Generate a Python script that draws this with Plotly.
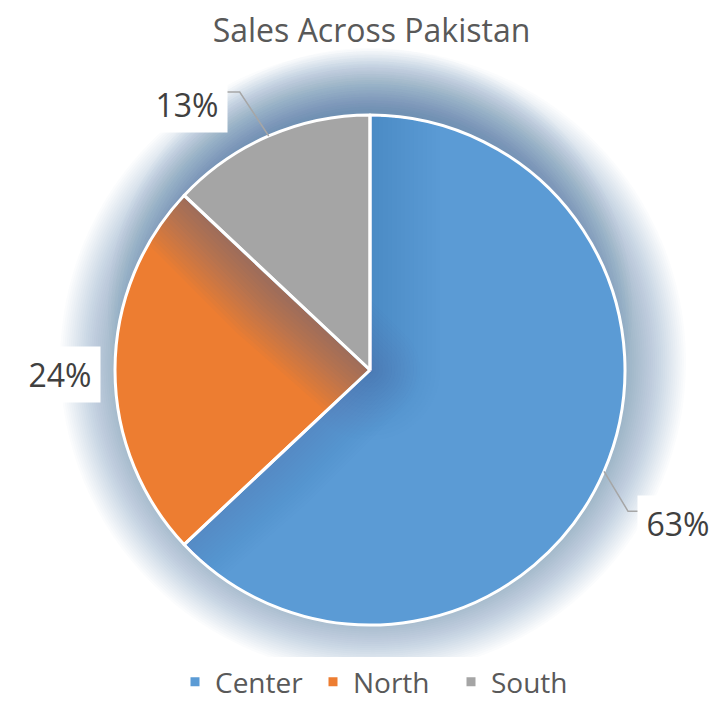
import math
import plotly.graph_objects as go

# ---- data ----
categories = ["Center", "North", "South"]
values = [63, 24, 13]
colors = ["#5B9BD5", "#ED7D31", "#A5A5A5"]
title_text = "Sales Across Pakistan"

# ---- layout / style (page pixels; the page body has an 8px margin) ----
W, H = 718, 701
OFF = 8
cx, cy, R = 370, 370, 255
label_offsets = [(74, 52), (-55, 4), (-82, -31)]
elbow_offsets = [(24, 40), None, (-29, -44)]
label_half_w = 39
glow_rgb = (50, 100, 175)


def px(x):
    return (x - OFF) / W


def py(y):
    return 1 - (y - OFF) / H


fig = go.Figure(go.Pie(
    labels=categories, values=values, sort=False,
    direction="clockwise", rotation=0,
    marker=dict(colors=colors, line=dict(color="white", width=3)),
    textinfo="none", hoverinfo="label+percent",
    domain=dict(x=[px(cx - R), px(cx + R)], y=[py(cy + R), py(cy - R)]),
))

shapes = []


def glow(gx, gy, r_in, r_out, alpha_total, n):
    a = 1 - (1 - alpha_total) ** (1 / n)
    for i in range(n):
        r = r_out - (r_out - r_in) * i / n
        shapes.append(dict(type="circle", xref="paper", yref="paper", layer="below",
                           x0=px(gx - r), x1=px(gx + r), y0=py(gy + r), y1=py(gy - r),
                           fillcolor="rgba(%d,%d,%d,%.4f)" % (glow_rgb + (a,)),
                           line=dict(width=0)))


# soft blue glow behind the pie, stronger above it
glow(cx + 3, cy - 8, R - 4, R + 58, 0.42, 30)
glow(cx, cy - 60, R - 58, R + 7, 0.30, 20)

# slice geometry from the data
total = sum(values)
bounds = []
cum = 0
for v in values:
    bounds.append((cum / total * 2 * math.pi, (cum + v) / total * 2 * math.pi))
    cum += v


def pt(ang, rad):
    return (cx + rad * math.sin(ang), cy - rad * math.cos(ang))


def slice_poly(i, rad, steps=90):
    a0, a1 = bounds[i]
    pts = [(cx, cy)]
    for k in range(steps + 1):
        pts.append(pt(a0 + (a1 - a0) * k / steps, rad))
    return pts


def clip(poly, f):
    # keep points where f(p) >= 0 (Sutherland-Hodgman against one half-plane)
    out = []
    m = len(poly)
    for k in range(m):
        p, q = poly[k], poly[(k + 1) % m]
        fp, fq = f(p), f(q)
        if fp >= 0:
            out.append(p)
        if (fp >= 0) != (fq >= 0):
            t = fp / (fp - fq)
            out.append((p[0] + t * (q[0] - p[0]), p[1] + t * (q[1] - p[1])))
    return out


def near(subject, src, d, ndir=96):
    # part of `subject` lying within distance d of the convex slice `src`
    poly = subject
    for k in range(ndir):
        phi = 2 * math.pi * k / ndir
        nx, ny = math.cos(phi), math.sin(phi)
        h = max(p[0] * nx + p[1] * ny for p in src) + d
        poly = clip(poly, lambda p, nx=nx, ny=ny, h=h: h - (p[0] * nx + p[1] * ny))
        if len(poly) < 3:
            break
    return poly


def cast_glow(src_idx, dst_idx, width, alpha_total, steps=16):
    # glow of a later-drawn slice falling over an earlier neighbour
    src = slice_poly(src_idx, R, 40)
    dst = slice_poly(dst_idx, R - 1.5)
    a = 1 - (1 - alpha_total) ** (1 / steps)
    for j in range(1, steps + 1):
        poly = near(dst, src, width * j / steps)
        if len(poly) < 3:
            continue
        path = "M " + " L ".join(f"{px(x):.5f},{py(y):.5f}" for x, y in poly) + " Z"
        shapes.append(dict(type="path", xref="paper", yref="paper", layer="above",
                           path=path, fillcolor="rgba(%d,%d,%d,%.4f)" % (glow_rgb + (a,)),
                           line=dict(width=0)))


cast_glow(2, 1, 60, 0.36)   # South over North
cast_glow(2, 0, 70, 0.20)   # South over Center
cast_glow(1, 0, 50, 0.15)   # North over Center

# white slice dividers back on top of the shading
for a0, a1 in bounds:
    ex, ey = pt(a0, R)
    shapes.append(dict(type="line", xref="paper", yref="paper", layer="above",
                       x0=px(cx), y0=py(cy), x1=px(ex), y1=py(ey),
                       line=dict(color="white", width=3)))

annotations = []
for i, v in enumerate(values):
    a0, a1 = bounds[i]
    ex, ey = pt((a0 + a1) / 2, R)
    lx = ex + label_offsets[i][0]
    ly = ey + label_offsets[i][1]
    pct = round(v / total * 100)
    annotations.append(dict(x=px(lx), y=py(ly), xref="paper", yref="paper",
                            text=f"{pct}%", showarrow=False,
                            font=dict(family="Open Sans", size=32, color="#404040"),
                            bgcolor="white", borderpad=6, width=68,
                            xanchor="center", yanchor="middle"))
    if elbow_offsets[i] is not None:
        bx = ex + elbow_offsets[i][0]
        by = ey + elbow_offsets[i][1]
        side = 1 if lx > bx else -1
        endx = lx - side * (label_half_w + 1)
        path = f"M {px(ex)},{py(ey)} L {px(bx)},{py(by)} L {px(endx)},{py(by)}"
        shapes.append(dict(type="path", xref="paper", yref="paper", layer="above",
                           path=path, line=dict(color="#A6A6A6", width=1.5)))

fig.update_layout(
    width=W, height=H,
    margin=dict(l=0, r=0, t=0, b=0),
    paper_bgcolor="white", plot_bgcolor="white",
    title=dict(text=title_text, x=px(371.5), xanchor="center", y=py(31), yanchor="middle",
               font=dict(family="Open Sans", size=32, color="#595959")),
    legend=dict(orientation="h", x=px(382), xanchor="center", y=2 / H, yanchor="bottom",
                font=dict(family="Open Sans", size=28, color="#595959"),
                entrywidth=93, entrywidthmode="pixels",
                traceorder="normal"),
    shapes=shapes,
    annotations=annotations,
)

fig.write_html("out.html")
